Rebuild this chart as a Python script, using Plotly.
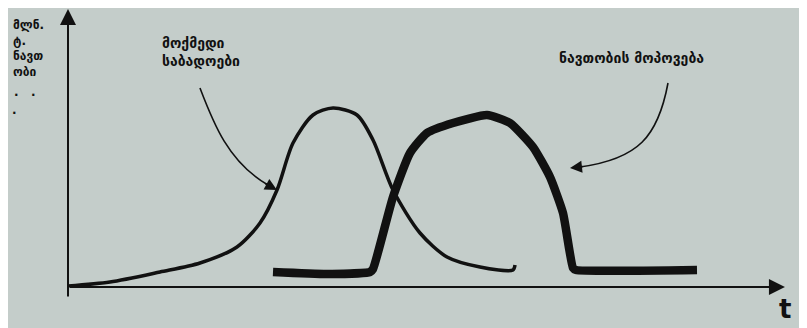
import plotly.graph_objects as go

# active deposits (thin curve)
deposits_t = [0.0, 4.2, 9.2, 13.2, 16.9, 19.2, 20.9, 22.5, 24.5, 26.5, 28.9, 30.5, 32.5, 35.2, 37.9, 41.2, 44.5, 44.7]
deposits_v = [0.1, 0.5, 1.5, 2.4, 4.0, 6.4, 9.7, 14.4, 17.2, 17.9, 17.2, 14.7, 9.7, 5.4, 3.0, 2.0, 1.7, 2.2]

# oil extraction (thick curve)
oil_t = [20.5, 25.9, 30.2, 30.5, 32.5, 34.2, 35.9, 38.5, 41.9, 44.2, 46.5, 48.2, 49.5, 50.5, 50.8, 62.9]
oil_v = [1.5, 1.3, 1.5, 1.8, 9.0, 13.4, 15.4, 16.4, 17.2, 16.4, 14.0, 11.0, 7.4, 1.9, 1.7, 1.7]

label_deposits = "მოქმედი<br>საბადოები"
label_oil = "ნავთობის მოპოვება"
label_y = "მლნ.<br>ტ.<br>ნავთ<br>ობი"

BG = "#c4cdca"
INK = "#111111"
FONT = "DejaVu Sans"

fig = go.Figure()
fig.add_trace(go.Scatter(x=deposits_t, y=deposits_v, mode="lines",
                         line=dict(color=INK, width=3.5, shape="spline", smoothing=0.8),
                         hoverinfo="skip"))
fig.add_trace(go.Scatter(x=oil_t, y=oil_v, mode="lines",
                         line=dict(color=INK, width=8.5, shape="spline", smoothing=0.5),
                         hoverinfo="skip"))

# curved pointer lines
fig.add_shape(type="path", xref="x", yref="y",
              path="M 13.2,19.9 C 14.5,16.5 16.0,12.5 20.0,10.2",
              line=dict(color=INK, width=1.6))
fig.add_shape(type="path", xref="x", yref="y",
              path="M 60.0,20.4 C 59.0,15.0 57.0,12.8 51.2,12.0",
              line=dict(color=INK, width=1.6))

annotations = [
    # axes with arrowheads
    dict(x=0, y=1, xref="paper", yref="paper", ax=0, ay=290,
         text="", showarrow=True, arrowhead=2, arrowsize=1.6, arrowwidth=2, arrowcolor=INK),
    dict(x=0.993, y=0, xref="paper", yref="paper", ax=-717, ay=0,
         text="", showarrow=True, arrowhead=2, arrowsize=1.6, arrowwidth=2, arrowcolor=INK),
    # arrow tips of the pointers
    dict(x=20.9, y=9.7, ax=19.6, ay=10.4, axref="x", ayref="y", xref="x", yref="y",
         text="", showarrow=True, arrowhead=2, arrowsize=1.5, arrowwidth=1.6, arrowcolor=INK),
    dict(x=50.2, y=11.9, ax=51.6, ay=12.05, axref="x", ayref="y", xref="x", yref="y",
         text="", showarrow=True, arrowhead=2, arrowsize=1.5, arrowwidth=1.6, arrowcolor=INK),
    # labels
    dict(x=13.3, y=23.5, xref="x", yref="y", text=label_deposits, showarrow=False,
         xanchor="center", yanchor="middle", align="left",
         font=dict(family=FONT, size=14, color=INK, weight="bold")),
    dict(x=56.3, y=22.9, xref="x", yref="y", text=label_oil, showarrow=False,
         xanchor="center", yanchor="middle",
         font=dict(family=FONT, size=14, color=INK, weight="bold")),
    dict(x=-0.079, y=0.97, xref="paper", yref="paper", text=label_y, showarrow=False,
         xanchor="left", yanchor="top", align="left",
         font=dict(family=FONT, size=12, color=INK, weight="bold")),
    dict(x=-0.078, y=0.70, xref="paper", yref="paper", text=".&nbsp;&nbsp;&nbsp;.", showarrow=False,
         xanchor="left", yanchor="middle", font=dict(family=FONT, size=12, color=INK, weight="bold")),
    dict(x=-0.080, y=0.635, xref="paper", yref="paper", text=".", showarrow=False,
         xanchor="left", yanchor="middle", font=dict(family=FONT, size=12, color=INK, weight="bold")),
    dict(x=0.993, y=-0.08, xref="paper", yref="paper", text="t", showarrow=False,
         xanchor="center", yanchor="middle",
         font=dict(family=FONT, size=26, color=INK, weight="bold")),
]

# the page body adds an 8px offset, so margins are shifted to compensate
fig.update_layout(
    width=807, height=328,
    margin=dict(l=60, r=25, t=0, b=49),
    paper_bgcolor=BG, plot_bgcolor=BG,
    showlegend=False,
    xaxis=dict(range=[0, 72.2], visible=False, fixedrange=True),
    yaxis=dict(range=[0, 27.9], visible=False, fixedrange=True),
    annotations=annotations,
)

fig.write_html("out.html")
